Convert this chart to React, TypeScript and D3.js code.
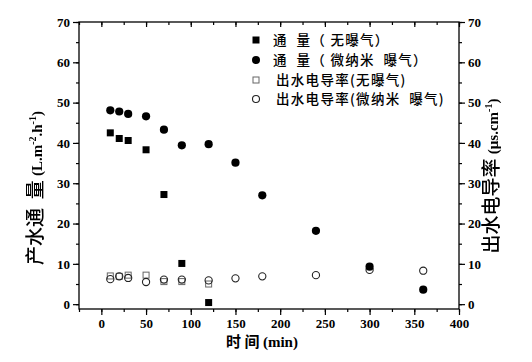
import { useEffect, useRef } from "react";
import * as d3 from "d3";

const fluxNoX = [10, 20, 30, 50, 70, 90, 120];
const fluxNoY = [42.5, 41.1, 40.6, 38.3, 27.2, 10.1, 0.4];
const fluxNanoX = [10, 20, 30, 50, 70, 90, 120, 150, 180, 240, 300, 360];
const fluxNanoY = [48.1, 47.8, 47.2, 46.6, 43.3, 39.4, 39.7, 35.1, 27.0, 18.2, 9.3, 3.6];
const condNoX = [10, 20, 30, 50, 70, 90, 120];
const condNoY = [7.0, 6.9, 7.2, 7.2, 5.6, 5.6, 5.0];
const condNanoX = [10, 20, 30, 50, 70, 90, 120, 150, 180, 240, 300, 360];
const condNanoY = [6.2, 6.9, 6.5, 5.5, 6.1, 6.1, 5.9, 6.4, 6.9, 7.2, 8.5, 8.3];
const xTicks = [0, 50, 100, 150, 200, 250, 300, 350, 400];
const yTicks = [0, 10, 20, 30, 40, 50, 60, 70];
const legendLabels = ["通  量（ 无曝气）", "通  量（ 微纳米  曝气）", "出水电导率(无曝气)", "出水电导率(微纳米  曝气)"];

const NUM_FONT = "'Liberation Serif', 'DejaVu Serif', serif";
const CJK_FONT = "'Noto Sans CJK SC', sans-serif";

const App = () => {
  const ref = useRef<SVGSVGElement | null>(null);

  useEffect(() => {
    drawChart();
  }, []);

  const drawChart = () => {
    const svg = d3.select(ref.current);
    svg.selectAll("*").remove();

    const margin = { top: 22, right: 73, bottom: 53, left: 79 };
    const W = 532, H = 362;
    const x = d3.scaleLinear().domain([-25, 400]).range([margin.left, W - margin.right]);
    const y = d3.scaleLinear().domain([-1.2, 70]).range([H - margin.bottom, margin.top]);
    const y2 = y.copy();

    const minorX = d3.range(-25, 401, 25);
    const minorY = d3.range(0, 71, 5);

    // plain filter so the rotated titles get grayscale antialiasing
    svg.append("defs").append("filter").attr("id", "flat")
      .append("feColorMatrix").attr("type", "saturate").attr("values", 0);

    // frame
    svg
      .append("rect")
      .attr("x", margin.left)
      .attr("y", margin.top)
      .attr("width", W - margin.left - margin.right)
      .attr("height", H - margin.top - margin.bottom)
      .attr("fill", "none")
      .attr("stroke", "#000")
      .attr("stroke-width", 1.3);

    const styleAxis = (g: any) => {
      g.select(".domain").remove();
      g.selectAll("line").attr("stroke", "#000").attr("stroke-width", 1.2);
      g.selectAll("text").style("font-family", NUM_FONT).style("font-weight", "bold").style("font-size", "13px").attr("fill", "#000");
    };

    // bottom
    svg.append("g").attr("transform", `translate(0,${y.range()[0]})`)
      .call(d3.axisBottom(x).tickValues(minorX).tickSize(3).tickFormat(() => ""))
      .call(styleAxis);
    svg.append("g").attr("transform", `translate(0,${y.range()[0]})`)
      .call(d3.axisBottom(x).tickValues(xTicks).tickSize(6).tickPadding(4).tickFormat(d3.format("d")))
      .call(styleAxis);
    // top (inward)
    svg.append("g").attr("transform", `translate(0,${margin.top})`)
      .call(d3.axisBottom(x).tickValues(minorX).tickSize(3).tickFormat(() => ""))
      .call(styleAxis);
    svg.append("g").attr("transform", `translate(0,${margin.top})`)
      .call(d3.axisBottom(x).tickValues(xTicks).tickSize(5).tickFormat(() => ""))
      .call(styleAxis);

    // left
    svg.append("g").attr("transform", `translate(${margin.left},0)`)
      .call(d3.axisLeft(y).tickValues(minorY).tickSize(3).tickFormat(() => ""))
      .call(styleAxis);
    svg.append("g").attr("transform", `translate(${margin.left},0)`)
      .call(d3.axisLeft(y).tickValues(yTicks).tickSize(6).tickPadding(3).tickFormat(d3.format("d")))
      .call(styleAxis);
    // right
    svg.append("g").attr("transform", `translate(${W - margin.right},0)`)
      .call(d3.axisRight(y2).tickValues(minorY).tickSize(3).tickFormat(() => ""))
      .call(styleAxis);
    svg.append("g").attr("transform", `translate(${W - margin.right},0)`)
      .call(d3.axisRight(y2).tickValues(yTicks).tickSize(6).tickPadding(3).tickFormat(d3.format("d")))
      .call(styleAxis);

    const sq = 7;
    const r = 4.1;
    const ro = 3.6;

    // open squares (conductivity, no aeration)
    svg.append("g").selectAll("rect").data(condNoX).join("rect")
      .attr("x", (d) => x(d) - 3).attr("y", (_, i) => y2(condNoY[i]) - 3)
      .attr("width", 6).attr("height", 6)
      .attr("fill", "none").attr("stroke", "#666").attr("stroke-width", 1);
    // open circles (conductivity, nano)
    svg.append("g").selectAll("circle").data(condNanoX).join("circle")
      .attr("cx", (d) => x(d)).attr("cy", (_, i) => y2(condNanoY[i]))
      .attr("r", ro).attr("fill", "none").attr("stroke", "#222").attr("stroke-width", 1.1);
    // filled squares
    svg.append("g").selectAll("rect").data(fluxNoX).join("rect")
      .attr("x", (d) => x(d) - sq / 2).attr("y", (_, i) => y(fluxNoY[i]) - sq / 2)
      .attr("width", sq).attr("height", sq).attr("fill", "#000");
    // filled circles
    svg.append("g").selectAll("circle").data(fluxNanoX).join("circle")
      .attr("cx", (d) => x(d)).attr("cy", (_, i) => y(fluxNanoY[i]))
      .attr("r", r).attr("fill", "#000");

    // legend
    const lg = svg.append("g");
    const lx = 256;
    const rows = [40, 60, 80, 99];
    lg.append("rect").attr("x", lx - 3.5).attr("y", rows[0] - 3.5).attr("width", 7).attr("height", 7).attr("fill", "#000");
    lg.append("circle").attr("cx", lx).attr("cy", rows[1]).attr("r", 4).attr("fill", "#000");
    lg.append("rect").attr("x", lx - 3).attr("y", rows[2] - 3).attr("width", 6).attr("height", 6).attr("fill", "none").attr("stroke", "#666");
    lg.append("circle").attr("cx", lx).attr("cy", rows[3]).attr("r", 3.5).attr("fill", "none").attr("stroke", "#222").attr("stroke-width", 1.1);
    legendLabels.forEach((t, i) => {
      lg.append("text")
        .attr("x", i < 2 ? 273 : 276)
        .attr("y", rows[i])
        .attr("dy", "0.36em")
        .style("font-family", CJK_FONT)
        .style("font-size", "13.5px")
        .style("letter-spacing", "1.3px")
        .style("font-weight", 500)
        .style("white-space", "pre")
        .attr("fill", "#000")
        .text(t);
    });

    // axis titles
    const xt = svg.append("text").attr("x", 262).attr("y", 347).attr("text-anchor", "middle").attr("fill", "#000");
    xt.append("tspan").style("font-family", CJK_FONT).style("font-weight", "bold").style("font-size", "15px").text("时 间 ");
    xt.append("tspan").style("font-family", NUM_FONT).style("font-weight", "bold").style("font-size", "15px").text("(min)");

    const lt = svg.append("g").attr("filter", "url(#flat)")
      .append("text").attr("transform", "translate(42,188) rotate(-90)").attr("text-anchor", "middle").attr("fill", "#000");
    lt.append("tspan").style("font-family", CJK_FONT).style("font-size", "19px").style("font-weight", 500).style("white-space", "pre").text("产水通  量 ");
    lt.append("tspan").style("font-family", NUM_FONT).style("font-weight", "bold").style("font-size", "15px").text("(L.m");
    lt.append("tspan").style("font-family", NUM_FONT).style("font-weight", "bold").style("font-size", "10px").attr("dy", -6).text("-2");
    lt.append("tspan").style("font-family", NUM_FONT).style("font-weight", "bold").style("font-size", "15px").attr("dy", 6).text(".h");
    lt.append("tspan").style("font-family", NUM_FONT).style("font-weight", "bold").style("font-size", "10px").attr("dy", -6).text("-1");
    lt.append("tspan").style("font-family", NUM_FONT).style("font-weight", "bold").style("font-size", "15px").attr("dy", 6).text(")");

    const rt = svg.append("g").attr("filter", "url(#flat)")
      .append("text").attr("transform", "translate(498,176) rotate(-90)").attr("text-anchor", "middle").attr("fill", "#000");
    rt.append("tspan").style("font-family", CJK_FONT).style("font-size", "19px").style("font-weight", 500).text("出水电导率 ");
    rt.append("tspan").style("font-family", NUM_FONT).style("font-weight", "bold").style("font-size", "15px").text("(μs.cm");
    rt.append("tspan").style("font-family", NUM_FONT).style("font-weight", "bold").style("font-size", "10px").attr("dy", -6).text("-1");
    rt.append("tspan").style("font-family", NUM_FONT).style("font-weight", "bold").style("font-size", "15px").attr("dy", 6).text(")");
  };

  return (
    <svg
      ref={ref}
      width={532}
      height={362}
      style={{ position: "absolute", left: 0, top: 0, background: "#fff" }}
    />
  );
};

export default App;
